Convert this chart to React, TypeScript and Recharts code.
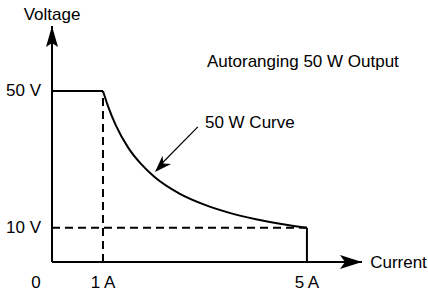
import React from 'react';
import {
  ComposedChart,
  Line,
  XAxis,
  YAxis,
  ReferenceDot,
  ReferenceLine,
} from 'recharts';

// current (A) / voltage (V)
const flatCurrent = [0, 1];
const flatVoltage = [50, 50];
const curveCurrent = [1, 1.1, 1.25, 1.5, 1.75, 2, 2.5, 3, 3.5, 4, 4.5, 5];
const curveVoltage = [50, 45.5, 40, 33.3, 28.6, 25, 20, 16.7, 14.3, 12.5, 11.1, 10];
const dropCurrent = [5, 5];
const dropVoltage = [10, 0];
const dashVCurrent = [1, 1];
const dashVVoltage = [0, 50];
const dashHCurrent = [0, 5];
const dashHVoltage = [10, 10];

const xTicks = [0, 1, 5];
const xTickLabels = ['0', '1 A', '5 A'];
const yTicks = [10, 50];
const yTickLabels = ['10 V', '50 V'];

const X_MAX = 6.08;
const Y_MAX = 69;

const FONT = "'Liberation Sans Narrow', 'Arial Narrow', sans-serif";

const toRows = (xs: number[], ys: number[]) => xs.map((i, k) => ({ i, v: ys[k] }));

const XTick = (props: any) => {
  const { x, y, payload } = props;
  const idx = xTicks.indexOf(payload.value);
  const dx = payload.value === 0 ? -16 : 0;
  return (
    <text x={x + dx} y={y + 12} textAnchor="middle" dominantBaseline="central" fontFamily={FONT} fontSize={17} fill="#000">
      {xTickLabels[idx]}
    </text>
  );
};

const YTick = (props: any) => {
  const { y, payload } = props;
  const idx = yTicks.indexOf(payload.value);
  return (
    <text x={41} y={y} textAnchor="end" dominantBaseline="central" fontFamily={FONT} fontSize={17} fill="#000">
      {yTickLabels[idx]}
    </text>
  );
};

const upArrow = (p: any) => (
  <polygon
    points={`${p.cx},${p.cy} ${p.cx - 6},${p.cy + 21} ${p.cx},${p.cy + 17} ${p.cx + 6},${p.cy + 21}`}
    fill="#000"
  />
);

const rightArrow = (p: any) => (
  <polygon
    points={`${p.cx},${p.cy} ${p.cx - 22},${p.cy - 7} ${p.cx - 17},${p.cy} ${p.cx - 22},${p.cy + 7}`}
    fill="#000"
  />
);

const leaderHead = (p: any) => (
  <polygon
    transform={`rotate(134 ${p.cx} ${p.cy})`}
    points={`${p.cx},${p.cy} ${p.cx - 17},${p.cy - 6} ${p.cx - 12},${p.cy} ${p.cx - 17},${p.cy + 6}`}
    fill="#000"
  />
);

const textAt = (label: string, anchor: string) => (p: any) => (
  <text x={p.cx} y={p.cy} textAnchor={anchor} dominantBaseline="central" fontFamily={FONT} fontSize={17} fill="#000">
    {label}
  </text>
);

export default function App() {
  return (
    <div style={{ position: 'absolute', left: 0, top: 0, background: '#fff' }}>
      <ComposedChart width={428} height={295} margin={{ top: 26, right: 66, left: 0, bottom: 0 }}>
        <XAxis
          type="number"
          dataKey="i"
          domain={[0, X_MAX]}
          ticks={xTicks}
          tick={<XTick />}
          tickLine={false}
          axisLine={{ stroke: '#000', strokeWidth: 2 }}
          height={33}
          allowDataOverflow
        />
        <YAxis
          type="number"
          domain={[0, Y_MAX]}
          ticks={yTicks}
          tick={<YTick />}
          tickLine={false}
          axisLine={{ stroke: '#000', strokeWidth: 2 }}
          width={52}
          allowDataOverflow
        />
        <Line data={toRows(dashVCurrent, dashVVoltage)} dataKey="v" type="linear" stroke="#000" strokeWidth={2} strokeDasharray="8 5" dot={false} isAnimationActive={false} />
        <Line data={toRows(dashHCurrent, dashHVoltage)} dataKey="v" type="linear" stroke="#000" strokeWidth={2} strokeDasharray="8 5" dot={false} isAnimationActive={false} />
        <Line data={toRows(flatCurrent, flatVoltage)} dataKey="v" type="linear" stroke="#000" strokeWidth={2} dot={false} isAnimationActive={false} />
        <Line data={toRows(curveCurrent, curveVoltage)} dataKey="v" type="monotone" stroke="#000" strokeWidth={2} dot={false} isAnimationActive={false} />
        <Line data={toRows(dropCurrent, dropVoltage)} dataKey="v" type="linear" stroke="#000" strokeWidth={2} dot={false} isAnimationActive={false} />
        <ReferenceLine segment={[{ x: 2.86, y: 39.5 }, { x: 2.1, y: 28 }]} stroke="#000" strokeWidth={1.2} ifOverflow="visible" />
        <ReferenceDot x={2.02} y={26.3} shape={leaderHead} ifOverflow="visible" />
        <ReferenceDot x={0} y={Y_MAX} shape={upArrow} ifOverflow="visible" />
        <ReferenceDot x={X_MAX} y={0} shape={rightArrow} ifOverflow="visible" />
        <ReferenceDot x={0} y={72.5} shape={textAt('Voltage', 'middle')} ifOverflow="visible" />
        <ReferenceDot x={6.24} y={0} shape={textAt('Current', 'start')} ifOverflow="visible" />
        <ReferenceDot x={3.04} y={58.5} shape={textAt('Autoranging 50 W Output', 'start')} ifOverflow="visible" />
        <ReferenceDot x={3.0} y={40.9} shape={textAt('50 W Curve', 'start')} ifOverflow="visible" />
      </ComposedChart>
    </div>
  );
}
